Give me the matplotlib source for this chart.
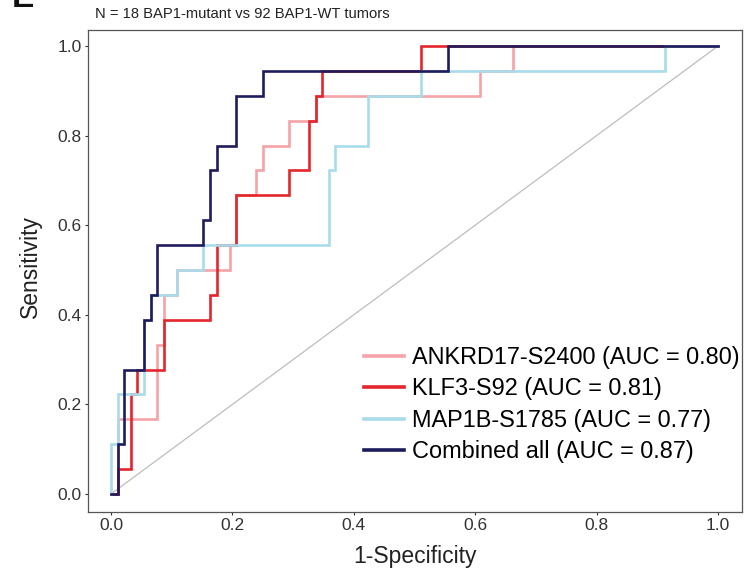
import matplotlib
matplotlib.use("Agg")
import matplotlib.pyplot as plt
import numpy as np

plt.rcParams['font.family'] = ['Liberation Sans', 'DejaVu Sans']

N_NEG = 92   # BAP1-WT tumors
N_POS = 18   # BAP1-mutant tumors

labels = ["ANKRD17-S2400 (AUC = 0.80)", "KLF3-S92 (AUC = 0.81)",
          "MAP1B-S1785 (AUC = 0.77)", "Combined all (AUC = 0.87)"]
colors = ["#F4A3A7", "#E3262B", "#A8DCEA", "#1E1C5C"]

# ROC curve vertices: false-positive counts (of 92) and true-positive counts (of 18)
ankrd17_fp = [0, 1, 1, 7, 7, 8, 8, 10, 10, 18, 18, 19, 19, 22, 22, 23, 23, 27, 27, 31, 31, 56, 56, 61, 61, 92]
ankrd17_tp = [0, 0, 3, 3, 6, 6, 8, 8, 9, 9, 10, 10, 12, 12, 13, 13, 14, 14, 15, 15, 16, 16, 17, 17, 18, 18]

klf3_fp = [0, 1, 1, 3, 3, 4, 4, 8, 8, 15, 15, 16, 16, 19, 19, 27, 27, 30, 30, 31, 31, 32, 32, 47, 47, 92]
klf3_tp = [0, 0, 1, 1, 4, 4, 5, 5, 7, 7, 8, 8, 10, 10, 12, 12, 13, 13, 15, 15, 16, 16, 17, 17, 18, 18]

map1b_fp = [0, 0, 1, 1, 5, 5, 6, 6, 10, 10, 14, 14, 33, 33, 34, 34, 39, 39, 47, 47, 84, 84, 92]
map1b_tp = [0, 2, 2, 4, 4, 7, 7, 8, 8, 9, 9, 10, 10, 13, 13, 14, 14, 16, 16, 17, 17, 18, 18]

combined_fp = [0, 1, 1, 2, 2, 5, 5, 6, 6, 7, 7, 14, 14, 15, 15, 16, 16, 19, 19, 23, 23, 51, 51, 92]
combined_tp = [0, 0, 2, 2, 5, 5, 7, 7, 8, 8, 10, 10, 11, 11, 13, 13, 14, 14, 16, 16, 17, 17, 18, 18]

curves = [(ankrd17_fp, ankrd17_tp), (klf3_fp, klf3_tp),
          (map1b_fp, map1b_tp), (combined_fp, combined_tp)]

ticks = [0.0, 0.2, 0.4, 0.6, 0.8, 1.0]
tick_labels = ["0.0", "0.2", "0.4", "0.6", "0.8", "1.0"]

W, H = 753, 571
fig = plt.figure(figsize=(W / 100, H / 100), dpi=100)
L, R, T, B = 88, 742, 30, 512
ax = fig.add_axes([L / W, 1 - B / H, (R - L) / W, (B - T) / H])

ax.plot([0, 1], [0, 1], color="#BDBDBD", lw=0.9, zorder=1)
for (fp, tp), c, lab in zip(curves, colors, labels):
    ax.plot(np.array(fp) / N_NEG, np.array(tp) / N_POS, color=c, lw=1.9,
            label=lab, zorder=2, solid_joinstyle='miter')

ax.set_xlim(-0.0379, 1.0395)
ax.set_ylim(-0.0402, 1.0357)
ax.set_xticks(ticks)
ax.set_xticklabels(tick_labels)
ax.set_yticks(ticks)
ax.set_yticklabels(tick_labels)
ax.tick_params(labelsize=12.5, colors="#333333", length=2.5, width=0.8, pad=2)
for s in ax.spines.values():
    s.set_color("#555555")
    s.set_linewidth(0.9)

fig.text(30 / W, 1 - 267 / H, "Sensitivity", rotation=90, fontsize=16.5,
         ha="center", va="center", color="#222222")
fig.text(415 / W, 1 - 556 / H, "1-Specificity", fontsize=16.5,
         ha="center", va="center", color="#222222")
fig.text(95 / W, 1 - 14 / H, "N = 18 BAP1-mutant vs 92 BAP1-WT tumors",
         fontsize=10.6, ha="left", va="center", color="#222222")
fig.text(12 / W, 1 - 7 / H, "E", fontsize=24, fontweight="bold",
         ha="left", va="baseline", color="#111111")

leg = ax.legend(loc="upper left", bbox_to_anchor=(364 / W, 1 - 346 / H),
                bbox_transform=fig.transFigure, frameon=False, fontsize=16.9,
                handlelength=1.72, handletextpad=0.33, labelspacing=0.36,
                borderpad=0, borderaxespad=0)
for line in leg.get_lines():
    line.set_linewidth(2.6)

fig.savefig("out.png", dpi=100)
